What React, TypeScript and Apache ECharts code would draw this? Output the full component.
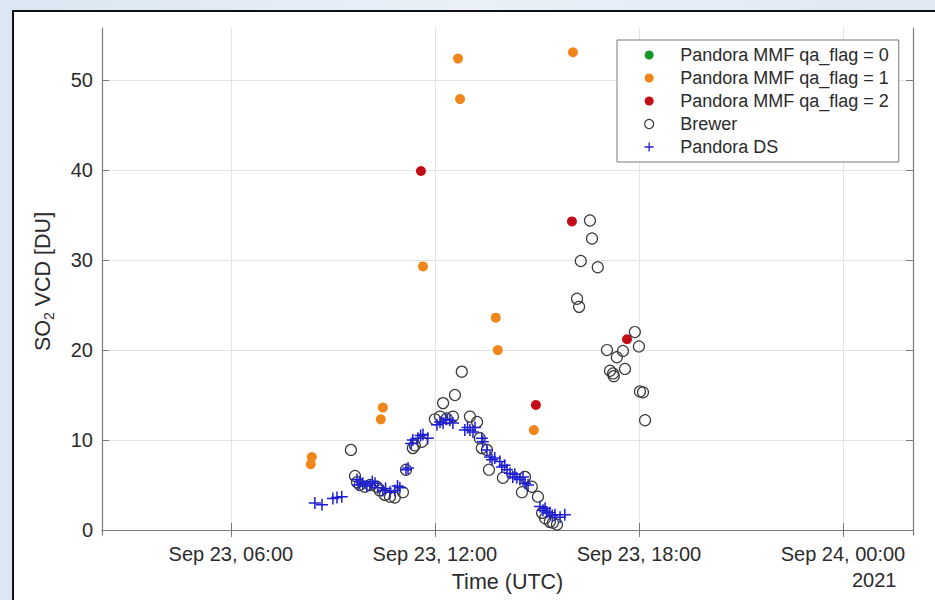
import React, { useEffect, useRef } from 'react';
import * as echarts from 'echarts';

// ---------- axis definitions ----------
const xTickHours = [6, 12, 18, 24];
const xTickLabels = ['Sep 23, 06:00', 'Sep 23, 12:00', 'Sep 23, 18:00', 'Sep 24, 00:00'];
const yTickValues = [0, 10, 20, 30, 40, 50];
const xRange = [2.21, 26.06];
const yRange = [-0.56, 55.8];
const yearLabel = '2021';

const seriesNames = [
  'Pandora MMF qa_flag = 0',
  'Pandora MMF qa_flag = 1',
  'Pandora MMF qa_flag = 2',
  'Brewer',
  'Pandora DS',
];

// ---------- data: [hour of Sep 23 (UTC), SO2 VCD (DU)] ----------
const mmfFlag0: [number, number][] = [];

const mmfFlag1: [number, number][] = [
  [8.35, 7.3], [8.38, 8.1], [10.41, 12.3], [10.47, 13.6], [11.65, 29.3],
  [12.68, 52.4], [12.74, 47.9], [13.79, 23.6], [13.85, 20.0], [14.91, 11.1],
  [16.06, 53.1],
];

const mmfFlag2: [number, number][] = [
  [11.59, 39.9], [14.97, 13.9], [16.03, 34.3], [17.65, 21.2],
];

const brewer: [number, number][] = [
  [9.53, 8.9], [9.65, 6.0], [9.71, 5.3], [9.79, 5.0], [9.94, 4.8], [10.09, 5.0],
  [10.29, 4.8], [10.38, 4.4], [10.53, 3.9], [10.68, 3.7], [10.82, 3.6], [11.06, 4.2],
  [11.15, 6.7], [11.35, 9.1], [11.41, 9.4], [11.62, 9.8], [12.0, 12.3], [12.15, 12.6],
  [12.24, 14.1], [12.35, 12.4], [12.53, 12.6], [12.59, 15.0], [12.79, 17.6],
  [13.03, 12.6], [13.24, 12.0], [13.32, 10.2], [13.38, 9.1], [13.53, 8.9], [13.59, 6.7],
  [14.0, 5.8], [14.56, 4.2], [14.65, 5.9], [14.85, 4.8], [15.03, 3.7], [15.15, 1.9],
  [15.24, 1.3], [15.38, 0.9], [15.47, 0.8], [15.59, 0.6],
  [16.56, 34.4], [16.62, 32.4], [16.29, 29.9], [16.79, 29.2], [16.18, 25.7], [16.24, 24.8],
  [17.88, 22.0], [18.0, 20.4], [17.06, 20.0], [17.53, 19.9], [17.35, 19.2], [17.59, 17.9],
  [17.15, 17.7], [17.24, 17.4], [17.26, 17.1], [18.03, 15.4], [18.12, 15.3], [18.18, 12.2],
];

const pandoraDS: [number, number][] = [
  [8.47, 3.0], [8.68, 2.8], [9.0, 3.5], [9.12, 3.6], [9.26, 3.7],
  [9.71, 5.6], [9.74, 5.0], [9.8, 5.4], [9.88, 5.2], [10.0, 4.9], [10.09, 5.0], [10.16, 5.4],
  [10.24, 5.2], [10.32, 4.7], [10.47, 4.4], [10.55, 4.6], [10.68, 4.2], [10.82, 4.4],
  [10.9, 4.9], [10.97, 4.7], [11.15, 6.7], [11.21, 6.9], [11.3, 9.6],
  [11.35, 10.0], [11.5, 10.2], [11.58, 10.5], [11.65, 10.6], [11.79, 10.2], [12.06, 11.7],
  [12.15, 12.0], [12.24, 11.9], [12.33, 12.3], [12.44, 12.2], [12.53, 11.9], [12.88, 11.1],
  [12.96, 11.4], [13.03, 11.1], [13.12, 10.9], [13.18, 11.4], [13.38, 10.2], [13.41, 9.8],
  [13.53, 8.9], [13.62, 8.1], [13.68, 7.8], [13.76, 8.0], [13.91, 7.6], [13.97, 7.0],
  [14.05, 7.2], [14.12, 6.7], [14.21, 6.3], [14.29, 5.9], [14.35, 6.2], [14.41, 5.8],
  [14.5, 5.6], [14.59, 5.9], [14.65, 5.2], [14.74, 5.0], [15.09, 2.6], [15.18, 2.2],
  [15.24, 2.4], [15.29, 2.0], [15.38, 1.9], [15.45, 1.6], [15.53, 1.7], [15.68, 1.4],
  [15.82, 1.7],
];

// ---------- styles ----------
const FONT = '"Liberation Sans", Arial, Helvetica, sans-serif';
const TEXT = '#2b2b2b';
const AXIS = '#7a7a7a';
const GRID = '#e4e4e4';
const GREEN = '#17962a';
const ORANGE = '#f0861a';
const RED = '#c10d18';
const CIRCLE = '#3a3a3a';
const BLUE = '#1e1ed2';
const PLUS = 'path://M6,0 L6,12 M0,6 L12,6';

export default function App() {
  const ref = useRef<HTMLDivElement>(null);

  useEffect(() => {
    if (!ref.current) return;
    const chart = echarts.init(ref.current, null, { renderer: 'svg' });

    const axisLine = { show: true, lineStyle: { color: AXIS, width: 1.2 } };
    const tickStyle = { show: true, inside: true, length: 7, lineStyle: { color: AXIS, width: 1 } };

    const option: any = {
      animation: false,
      backgroundColor: 'transparent',
      textStyle: { fontFamily: FONT },
      grid: { left: 102, right: 22, top: 28, bottom: 65, containLabel: false },
      xAxis: [
        {
          type: 'value',
          position: 'bottom',
          min: xRange[0],
          max: xRange[1],
          name: 'Time (UTC)',
          nameLocation: 'middle',
          nameGap: 36,
          nameTextStyle: { fontSize: 21.5, color: TEXT, fontFamily: FONT },
          axisLine,
          axisTick: { ...tickStyle, customValues: xTickHours },
          axisLabel: {
            customValues: xTickHours,
            margin: 9,
            fontSize: 20,
            color: TEXT,
            fontFamily: FONT,
            formatter: (v: number) => {
              const i = xTickHours.findIndex((h) => Math.abs(h - v) < 1e-6);
              return i >= 0 ? xTickLabels[i] : '';
            },
          },
          splitLine: { show: true, lineStyle: { color: GRID, width: 1 } },
        },
        {
          type: 'value',
          position: 'top',
          min: xRange[0],
          max: xRange[1],
          axisLine,
          axisTick: { ...tickStyle, customValues: xTickHours },
          axisLabel: { show: false },
          splitLine: { show: false },
        },
      ],
      yAxis: [
        {
          type: 'value',
          position: 'left',
          min: yRange[0],
          max: yRange[1],
          name: '{a|SO}{s|2}{a| VCD [DU]}',
          nameLocation: 'middle',
          nameGap: 46,
          nameTextStyle: {
            color: TEXT,
            rich: {
              a: { fontSize: 21.5, color: TEXT, fontFamily: FONT, lineHeight: 26 },
              s: { fontSize: 14, color: TEXT, fontFamily: FONT, lineHeight: 14, verticalAlign: 'bottom' },
            },
          },
          axisLine,
          axisTick: { ...tickStyle, customValues: yTickValues },
          axisLabel: {
            customValues: yTickValues,
            margin: 9,
            fontSize: 20,
            color: TEXT,
            fontFamily: FONT,
          },
          splitLine: { show: true, lineStyle: { color: GRID, width: 1 } },
        },
        {
          type: 'value',
          position: 'right',
          min: yRange[0],
          max: yRange[1],
          axisLine,
          axisTick: { ...tickStyle, customValues: yTickValues },
          axisLabel: { show: false },
          splitLine: { show: false },
        },
      ],
      legend: {
        orient: 'vertical',
        left: 617,
        top: 40,
        padding: [5, 10, 5, 27],
        itemWidth: 22,
        itemHeight: 9,
        itemGap: 3,
        backgroundColor: '#ffffff',
        borderColor: AXIS,
        borderWidth: 1,
        borderRadius: 0,
        selectedMode: false,
        textStyle: { fontSize: 18, lineHeight: 20, color: TEXT, fontFamily: FONT, padding: [0, 0, 0, 15] },
        data: [
          { name: seriesNames[0], icon: 'circle', itemStyle: { color: GREEN, opacity: 1 } },
          { name: seriesNames[1], icon: 'circle', itemStyle: { color: ORANGE, opacity: 1 } },
          { name: seriesNames[2], icon: 'circle', itemStyle: { color: RED, opacity: 1 } },
          { name: seriesNames[3], icon: 'circle', itemStyle: { color: '#ffffff', borderColor: CIRCLE, borderWidth: 1.2, opacity: 1 } },
          { name: seriesNames[4], icon: PLUS, itemStyle: { color: BLUE, borderColor: BLUE, borderWidth: 1.3, opacity: 1 } },
        ],
      },
      graphic: [
        {
          type: 'text',
          left: 852,
          top: 570,
          style: { text: yearLabel, fontSize: 20, fill: TEXT, fontFamily: FONT },
        },
      ],
      series: [
        {
          name: seriesNames[0], type: 'scatter', data: mmfFlag0, symbol: 'circle', symbolSize: 10,
          itemStyle: { color: GREEN, opacity: 1 }, silent: true,
        },
        {
          name: seriesNames[1], type: 'scatter', data: mmfFlag1, symbol: 'circle', symbolSize: 10,
          itemStyle: { color: ORANGE, opacity: 1 }, silent: true,
        },
        {
          name: seriesNames[2], type: 'scatter', data: mmfFlag2, symbol: 'circle', symbolSize: 10,
          itemStyle: { color: RED, opacity: 1 }, silent: true,
        },
        {
          name: seriesNames[3], type: 'scatter', data: brewer, symbol: 'circle', symbolSize: 11,
          itemStyle: { color: 'rgba(255,255,255,0)', borderColor: CIRCLE, borderWidth: 1.2, opacity: 1 }, silent: true,
        },
        {
          name: seriesNames[4], type: 'scatter', data: pandoraDS, symbol: PLUS, symbolSize: 12,
          itemStyle: { color: BLUE, borderColor: BLUE, borderWidth: 1.5, opacity: 1 }, silent: true,
        },
      ],
    };

    chart.setOption(option);
    return () => chart.dispose();
  }, []);

  return (
    <div
      style={{
        position: 'fixed', left: 0, top: 0, width: 935, height: 600, overflow: 'hidden',
        background: 'linear-gradient(90deg, #dbe6f2 0%, #e9f0f8 50%, #dfe8f3 100%)',
      }}
    >
      <div
        style={{
          position: 'absolute', left: 12, top: 10, width: 1000, height: 700,
          background: '#ffffff', borderLeft: '2px solid #111', borderTop: '2px solid #111',
        }}
      />
      <div ref={ref} style={{ position: 'absolute', left: 0, top: 0, width: 935, height: 600 }} />
    </div>
  );
}
